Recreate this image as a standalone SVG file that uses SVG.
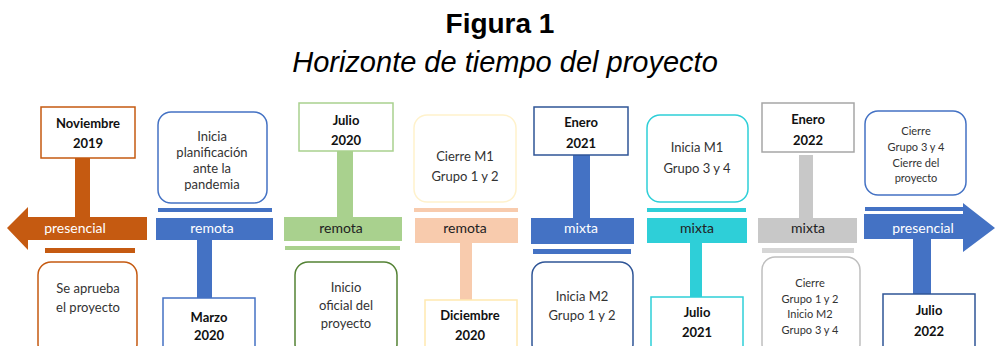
<svg xmlns="http://www.w3.org/2000/svg" width="995" height="346" viewBox="0 0 995 346">
<style>
text{font-family:Lato,"Liberation Sans",sans-serif;text-anchor:middle}
.t{font-size:13px;fill:#333}
.s{font-size:11px;fill:#333}
.b{font-size:13px;font-weight:bold;fill:#111}
.w{font-size:14px;fill:#fff}
.d{font-size:14px;fill:#222}
.box{fill:#fff;stroke-width:1.5}
</style>
<rect width="995" height="346" fill="#fff"/>
<text x="500" y="33" style="font-family:'Liberation Sans',Arial,sans-serif;font-size:28px;font-weight:bold;fill:#000">Figura 1</text>
<text x="505" y="72" style="font-family:'Liberation Sans',Arial,sans-serif;font-size:29px;font-style:italic;fill:#000">Horizonte de tiempo del proyecto</text>

<g id="connectors">
<rect x="75" y="158" width="15" height="60" fill="#C55A11"/>
<polygon points="7,228 28,207 28,217 147,217 147,240 28,240 28,250" fill="#C55A11"/>
<rect x="45" y="248" width="90" height="5" fill="#C55A11"/>
<rect x="158" y="208" width="114" height="4" fill="#4472C4"/>
<rect x="156" y="218" width="117" height="22" fill="#4472C4"/>
<rect x="197" y="240" width="15" height="58" fill="#4472C4"/>
<rect x="337" y="151" width="16" height="67" fill="#A9D18E"/>
<rect x="284" y="217" width="118" height="24" fill="#A9D18E"/>
<rect x="285" y="246" width="115" height="4" fill="#A9D18E"/>
<rect x="414" y="208" width="104" height="4" fill="#F8CBAD"/>
<rect x="415" y="218" width="103" height="25" fill="#F8CBAD"/>
<rect x="460" y="243" width="12" height="57" fill="#F8CBAD"/>
<rect x="573" y="155" width="17" height="63" fill="#4472C4"/>
<rect x="531" y="218" width="103" height="26" fill="#4472C4"/>
<rect x="533" y="249" width="98" height="5" fill="#4472C4"/>
<rect x="647" y="208" width="99" height="4" fill="#2ECFD8"/>
<rect x="647" y="218" width="100" height="25" fill="#2ECFD8"/>
<rect x="690" y="243" width="12" height="54" fill="#2ECFD8"/>
<rect x="799" y="155" width="14" height="63" fill="#C8C8C8"/>
<rect x="758" y="218" width="99" height="25" fill="#C8C8C8"/>
<rect x="762" y="248" width="92" height="5" fill="#D6D6D6"/>
<rect x="865" y="207" width="98" height="4" fill="#4472C4"/>
<polygon points="864,214 963,214 963,203 995,228 963,252 963,239 864,239" fill="#4472C4"/>
<rect x="913" y="239" width="18" height="56" fill="#4472C4"/>
</g>

<g id="n1">
<rect class="box" x="41" y="107" width="94" height="51" stroke="#C55A11"/>
<text class="b" x="88" y="128">Noviembre</text>
<text class="b" x="88" y="148">2019</text>
</g>
<g id="l1"><text class="w" x="75" y="233">presencial</text></g>
<g id="n1b">
<rect class="box" x="38" y="262" width="99" height="95" rx="13" stroke="#C55A11"/>
<text class="t" x="88" y="293">Se aprueba</text>
<text class="t" x="88" y="312">el proyecto</text>
</g>

<g id="n2">
<rect class="box" x="158" y="112" width="109" height="91" rx="13" stroke="#4472C4"/>
<text class="t" x="212" y="141">Inicia</text>
<text class="t" x="212" y="157">planificación</text>
<text class="t" x="212" y="173">ante la</text>
<text class="t" x="212" y="189">pandemia</text>
</g>
<g id="l2"><text class="w" x="212" y="233">remota</text></g>
<g id="n2b">
<rect class="box" x="163" y="298" width="92" height="60" stroke="#4472C4"/>
<text class="b" x="209" y="322">Marzo</text>
<text class="b" x="209" y="340">2020</text>
</g>

<g id="n3">
<rect class="box" x="299" y="103" width="94" height="48" stroke="#A9D18E"/>
<text class="b" x="346" y="125">Julio</text>
<text class="b" x="346" y="145">2020</text>
</g>
<g id="l3"><text class="d" x="341" y="233">remota</text></g>
<g id="n3b">
<rect class="box" x="295" y="262" width="102" height="95" rx="13" stroke="#548235"/>
<text class="t" x="346" y="292">Inicio</text>
<text class="t" x="346" y="310">oficial del</text>
<text class="t" x="346" y="328">proyecto</text>
</g>

<g id="n4">
<rect class="box" x="414" y="115" width="102" height="87" rx="13" stroke="#FFF2CC"/>
<text class="t" x="465" y="161">Cierre M1</text>
<text class="t" x="465" y="181">Grupo 1 y 2</text>
</g>
<g id="l4"><text class="d" x="465" y="233">remota</text></g>
<g id="n4b">
<rect class="box" x="425" y="300" width="92" height="58" stroke="#FFE9B0"/>
<text class="b" x="470" y="320">Diciembre</text>
<text class="b" x="470" y="340">2020</text>
</g>

<g id="n5">
<rect class="box" x="534" y="107" width="94" height="48" stroke="#2F5597"/>
<text class="b" x="581" y="127">Enero</text>
<text class="b" x="581" y="148">2021</text>
</g>
<g id="l5"><text class="w" x="581" y="233">mixta</text></g>
<g id="n5b">
<rect class="box" x="532" y="262" width="101" height="95" rx="13" stroke="#2F5597"/>
<text class="t" x="582" y="301">Inicia M2</text>
<text class="t" x="582" y="320">Grupo 1 y 2</text>
</g>

<g id="n6">
<rect class="box" x="647" y="115" width="101" height="87" rx="13" stroke="#2ECFD8"/>
<text class="t" x="697" y="152">Inicia M1</text>
<text class="t" x="697" y="173">Grupo 3 y 4</text>
</g>
<g id="l6"><text class="d" x="697" y="233">mixta</text></g>
<g id="n6b">
<rect class="box" x="651" y="297" width="92" height="60" stroke="#2ECFD8"/>
<text class="b" x="697" y="317">Julio</text>
<text class="b" x="697" y="337">2021</text>
</g>

<g id="n7">
<rect class="box" x="762" y="103" width="92" height="49" stroke="#A6A6A6"/>
<text class="b" x="808" y="124">Enero</text>
<text class="b" x="808" y="145">2022</text>
</g>
<g id="l7"><text class="d" x="808" y="233">mixta</text></g>
<g id="n7b">
<rect class="box" x="762" y="257" width="98" height="100" rx="13" stroke="#BFBFBF"/>
<text class="s" x="810" y="287">Cierre</text>
<text class="s" x="810" y="303">Grupo 1 y 2</text>
<text class="s" x="810" y="318">Inicio M2</text>
<text class="s" x="810" y="334">Grupo 3 y 4</text>
</g>

<g id="n8">
<rect class="box" x="865" y="111" width="101" height="84" rx="13" stroke="#4472C4"/>
<text class="s" x="916" y="135">Cierre</text>
<text class="s" x="916" y="151">Grupo 3 y 4</text>
<text class="s" x="916" y="167">Cierre del</text>
<text class="s" x="916" y="182">proyecto</text>
</g>
<g id="l8"><text class="w" x="923" y="233">presencial</text></g>
<g id="n8b">
<rect class="box" x="883" y="294" width="92" height="64" stroke="#2F5597"/>
<text class="b" x="929" y="315">Julio</text>
<text class="b" x="929" y="336">2022</text>
</g>
</svg>
